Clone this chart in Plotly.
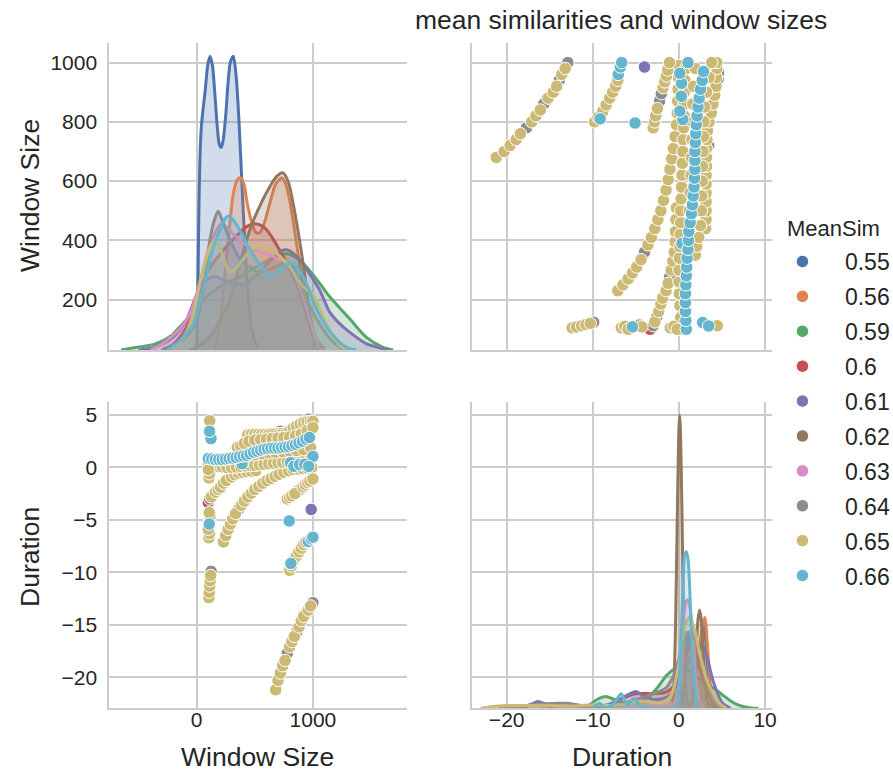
import plotly.graph_objects as go

# ---------------- data ----------------
groups = ["0.55", "0.56", "0.59", "0.6", "0.61", "0.62", "0.63", "0.64", "0.65", "0.66"]
colors = ["#4C72B0", "#DD8452", "#55A868", "#C44E52", "#8172B3",
          "#937860", "#DA8BC3", "#8C8C8C", "#CCB974", "#64B5CD"]

# scatter points per MeanSim group: (Window Size, Duration)
pts = {
    "0.55": [(130, 0.8), (160, 0.75), (280, 0.85), (310, 0.9)],
    "0.56": [(400, 1.1), (370, 1.05), (730, 1.9), (760, 1.95)],
    "0.59": [(945, 4.55), (750, 2.85), (220, 0.05)],
    "0.6": [(870, -15.45), (100, -3.35), (490, 1.45), (520, 1.55)],
    "0.61": [(985, -4.0), (790, 2.0), (820, 2.1)],
    "0.62": [(700, 1.85), (670, 1.85), (250, 0.8)],
    "0.63": [(220, 0.75), (190, 0.75), (640, 1.85)],
    "0.64": [(780, -17.7), (860, -15.7), (940, -13.9), (1000, -12.9), (124, -9.9),
             (360, -4.0), (112, -3.0), (140, -2.6), (275, -1.1), (870, -2.25), (895, -2.05),
             (270, -0.15), (720, 3.45), (965, 4.6)],
    "0.65": [
        # lower diagonal
        (680, -21.2), (700, -20.3), (720, -19.6), (740, -18.9), (760, -18.4), (800, -17.1),
        (820, -16.6), (840, -16.1), (880, -15.2), (900, -14.6), (920, -14.2), (960, -13.6), (980, -13.2),
        # short window cluster
        (105, -12.4), (108, -11.9), (112, -11.3), (116, -10.8), (120, -10.3),
        # upper-right diagonal
        (800, -9.8), (815, -9.4), (835, -8.85), (857, -8.45), (880, -8.05), (900, -7.7), (920, -7.35), (940, -7.1),
        # long curve
        (230, -7.1), (250, -6.5), (270, -5.9), (290, -5.4), (310, -4.9), (335, -4.4), (385, -3.6),
        (410, -3.2), (440, -2.8), (470, -2.45), (500, -2.1), (535, -1.8), (570, -1.5), (605, -1.25),
        (640, -1.05), (675, -0.85), (710, -0.65), (750, -0.45), (790, -0.3), (830, -0.2), (870, -0.15),
        (910, -0.1), (950, -0.05), (990, 0.0),
        # short curve
        (125, -2.8), (160, -2.35), (185, -2.1), (205, -1.9), (230, -1.5), (255, -1.25), (300, -0.9),
        (330, -0.7), (360, -0.55), (395, -0.45), (430, -0.4), (470, -0.35), (510, -0.3),
        # curve near -2
        (780, -3.0), (800, -2.85), (820, -2.7), (845, -2.5), (915, -1.85), (935, -1.65), (955, -1.45),
        (975, -1.3), (1000, -1.1),
        # upper rows
        (440, 3.1), (470, 3.15), (500, 3.15), (530, 3.15), (560, 3.15), (590, 3.15), (620, 3.15),
        (650, 3.2), (680, 3.2), (710, 3.2), (740, 3.25), (770, 3.3), (800, 3.5), (830, 3.75),
        (860, 3.95), (890, 4.15), (920, 4.3), (950, 4.35), (980, 4.4), (1000, 4.4),
        (350, 1.9), (380, 2.05), (410, 2.3), (450, 2.5), (500, 2.6), (550, 2.65), (600, 2.7),
        (650, 2.75), (700, 2.8), (750, 2.85), (800, 2.9), (850, 3.0), (900, 3.2), (950, 3.5), (1000, 3.8),
        # middle row
        (100, 0.3), (140, 0.2), (180, 0.1), (220, 0.05), (260, 0.0), (300, 0.0), (340, 0.05),
        (380, 0.1), (420, 0.15), (460, 0.2), (500, 0.2), (540, 0.25), (580, 0.3), (620, 0.35),
        (660, 0.4), (700, 0.45), (740, 0.5), (780, 0.55), (820, 0.6), (860, 0.6), (900, 0.6),
        (940, 0.7), (980, 0.8),
        (500, 1.2), (560, 1.3), (620, 1.4), (680, 1.45), (740, 1.5), (800, 1.55), (860, 1.6),
        (920, 1.7), (980, 1.9),
        # smallest window column
        (105, -6.7), (110, -6.3), (100, -5.9), (112, -5.0), (115, -4.6), (108, -4.3),
        (105, -1.0), (110, -0.6), (100, -0.2), (112, 4.45),
    ],
    "0.66": [
        (810, -9.15), (960, -7.05), (985, -6.8), (1000, -6.65), (796, -5.1),
        (108, -5.4), (123, 2.75), (111, 3.45), (390, 0.35),
        (100, 0.85), (130, 0.8), (160, 0.75), (190, 0.75), (220, 0.75), (250, 0.8), (280, 0.85),
        (310, 0.9), (340, 0.95), (370, 1.05), (400, 1.1), (430, 1.15), (460, 1.3), (490, 1.45),
        (520, 1.55), (550, 1.65), (580, 1.75), (610, 1.8), (640, 1.85), (670, 1.85), (700, 1.85),
        (730, 1.9), (760, 1.95), (790, 2.0), (820, 2.1), (850, 2.2), (880, 2.35), (910, 2.5),
        (940, 2.7), (970, 2.85), (1000, 1.05),
        (808, 0.45), (836, 0.1), (886, 0.27), (930, 0.3), (964, 0.1),
    ],
}

# diagonal density curves (relative density)
kde_w = {
    "0.55": ([-10, 0, 5, 10, 15, 20, 25, 30, 40, 55, 75, 95, 115, 135, 155, 175, 195, 212, 230, 250,
              270, 290, 315, 340, 365, 390, 415, 440, 470, 500, 530],
             [0, 0.02, 0.08, 0.2, 0.36, 0.5, 0.6, 0.68, 0.76, 0.82, 0.89, 0.97, 1.0, 0.97, 0.88, 0.77,
              0.7, 0.69, 0.72, 0.8, 0.91, 0.98, 1.0, 0.93, 0.77, 0.56, 0.36, 0.2, 0.08, 0.03, 0.01]),
    "0.56": ([160, 200, 230, 257, 285, 314, 350, 380, 410, 430, 470, 510, 545, 580, 630, 680, 735,
              770, 800, 830, 860, 890, 920, 950, 1000, 1050, 1100],
             [0, 0.09, 0.2, 0.32, 0.43, 0.53, 0.58, 0.586, 0.56, 0.51, 0.44, 0.40, 0.40, 0.43, 0.50,
              0.565, 0.586, 0.56, 0.51, 0.44, 0.36, 0.28, 0.2, 0.14, 0.07, 0.025, 0.005]),
    "0.59": ([-650, -500, -360, -215, -143, -72, 28, 200, 371, 543, 714, 800, 914, 1057, 1143, 1315,
              1458, 1600, 1690],
             [0, 0.01, 0.02, 0.05, 0.08, 0.11, 0.16, 0.216, 0.25, 0.29, 0.324, 0.326, 0.296, 0.228,
              0.182, 0.107, 0.044, 0.01, 0]),
    "0.6": ([-300, -200, -100, -57, 28, 114, 229, 300, 371, 430, 487, 550, 600, 714, 829, 886, 943,
             1000, 1060, 1100],
            [0, 0.02, 0.07, 0.11, 0.205, 0.28, 0.34, 0.37, 0.40, 0.42, 0.43, 0.425, 0.41, 0.34, 0.25,
             0.20, 0.12, 0.05, 0.01, 0]),
    "0.61": ([-500, -360, -215, -100, -14, 28, 90, 150, 220, 300, 370, 420, 515, 600, 686, 750, 800,
              886, 970, 1057, 1143, 1230, 1315, 1458, 1600, 1650],
             [0, 0.01, 0.04, 0.093, 0.175, 0.21, 0.24, 0.25, 0.24, 0.227, 0.222, 0.225, 0.256, 0.29,
              0.324, 0.341, 0.338, 0.307, 0.26, 0.205, 0.13, 0.09, 0.061, 0.022, 0.005, 0]),
    "0.62": ([-60, 0, 60, 114, 200, 286, 350, 429, 487, 543, 600, 686, 743, 790, 829, 870, 915, 972,
              1000, 1029, 1060],
             [0, 0.01, 0.025, 0.045, 0.1, 0.17, 0.26, 0.375, 0.44, 0.49, 0.535, 0.59, 0.603, 0.57,
              0.50, 0.41, 0.296, 0.125, 0.06, 0.015, 0]),
    "0.63": ([-400, -315, -143, -57, 28, 114, 215, 300, 401, 500, 600, 700, 772, 850, 915, 1000,
              1058, 1100],
             [0, 0.016, 0.073, 0.125, 0.23, 0.36, 0.43, 0.40, 0.364, 0.34, 0.33, 0.31, 0.296, 0.25,
              0.182, 0.068, 0.006, 0]),
    "0.64": ([-300, -200, -100, 0, 57, 114, 150, 185, 230, 286, 340, 400, 458, 515, 600, 714, 772,
              830, 915, 1000, 1057, 1143, 1230, 1300],
             [0, 0.015, 0.04, 0.1, 0.205, 0.375, 0.44, 0.472, 0.43, 0.375, 0.33, 0.296, 0.284, 0.267,
              0.27, 0.29, 0.30, 0.28, 0.205, 0.13, 0.09, 0.04, 0.01, 0]),
    "0.65": ([-250, -160, -72, -14, 28, 80, 114, 157, 200, 250, 286, 330, 400, 460, 515, 572, 630,
              686, 800, 914, 1000, 1058, 1143, 1229, 1290],
             [0, 0.02, 0.073, 0.15, 0.23, 0.31, 0.35, 0.375, 0.35, 0.29, 0.267, 0.275, 0.31, 0.34,
              0.352, 0.352, 0.345, 0.33, 0.284, 0.216, 0.19, 0.14, 0.07, 0.016, 0]),
    "0.66": ([-250, -150, -29, 28, 86, 143, 200, 250, 280, 320, 400, 460, 515, 560, 600, 630, 680,
              730, 772, 803, 857, 943, 1000, 1058, 1172, 1286, 1372],
             [0, 0.03, 0.09, 0.17, 0.26, 0.35, 0.41, 0.45, 0.456, 0.44, 0.387, 0.34, 0.307, 0.28,
              0.262, 0.25, 0.26, 0.28, 0.29, 0.296, 0.284, 0.228, 0.17, 0.118, 0.05, 0.01, 0]),
}

kde_d = {
    "0.55": ([0.3, 0.7, 1.1, 1.4, 1.8, 2.2, 2.6, 2.9, 3.2, 3.6, 4.0],
             [0, 0.1, 0.26, 0.2, 0.12, 0.15, 0.24, 0.28, 0.2, 0.05, 0]),
    "0.56": ([-0.5, 0, 0.5, 1.0, 1.5, 2.0, 2.4, 2.7, 3.0, 3.3, 3.6, 3.9, 4.3],
             [0, 0.02, 0.08, 0.15, 0.2, 0.2, 0.22, 0.28, 0.31, 0.22, 0.09, 0.025, 0]),
    "0.59": ([-12, -10.5, -9.5, -8.5, -7.5, -6.5, -5, -3.5, -2.5, -1.5, -0.5, 0.3, 1.2, 2.2, 3.2,
              4.2, 5.1, 6, 7, 8, 9.2],
             [0, 0.01, 0.03, 0.04, 0.03, 0.02, 0.02, 0.04, 0.07, 0.11, 0.135, 0.142, 0.13, 0.105,
              0.085, 0.065, 0.045, 0.025, 0.01, 0.003, 0]),
    "0.6": ([-18, -16.5, -15, -13, -11, -8, -6.5, -5, -3, -1.5, -0.5, 0.5, 1.2, 1.6, 2.2, 3.0, 3.8,
             4.5, 5.2],
            [0, 0.02, 0.006, 0.002, 0.002, 0.01, 0.035, 0.05, 0.05, 0.055, 0.08, 0.15, 0.21, 0.215,
             0.16, 0.08, 0.03, 0.005, 0]),
    "0.61": ([-19, -17, -16.4, -15, -13, -10, -8, -6, -5, -4, -2.5, -1, 0, 1, 2, 2.6, 3.2, 4, 5, 6],
             [0, 0.015, 0.023, 0.01, 0.005, 0.005, 0.015, 0.045, 0.057, 0.04, 0.03, 0.045, 0.1,
              0.15, 0.2, 0.22, 0.18, 0.09, 0.02, 0]),
    "0.62": ([-1.2, -0.8, -0.6, -0.4, -0.2, -0.1, 0.0, 0.08, 0.16, 0.3, 0.4, 0.5, 0.7, 0.9, 1.1,
              1.4, 1.7, 2.0, 2.2, 2.4, 2.6, 2.8, 3.0, 3.3, 3.6],
             [0, 0.013, 0.077, 0.28, 0.65, 0.82, 0.96, 1.0, 0.96, 0.76, 0.57, 0.37, 0.12, 0.03,
              0.01, 0.01, 0.06, 0.2, 0.3, 0.335, 0.3, 0.2, 0.1, 0.025, 0]),
    "0.63": ([-16, -15, -13, -7, -6, -5, -4.5, -3.8, -2.5, -1, -0.3, 0.28, 0.58, 0.8, 1.05, 1.3,
              1.63, 2.0, 2.4, 2.8],
             [0, 0.01, 0, 0, 0.01, 0.02, 0.025, 0.01, 0.005, 0.01, 0.03, 0.12, 0.32, 0.36, 0.37,
              0.34, 0.256, 0.085, 0.02, 0]),
    "0.64": ([-21, -19, -16, -13, -11, -9, -7, -5, -3, -1.5, -0.5, 0.3, 1.0, 1.6, 2.3, 3, 3.8,
              4.5, 5.2],
             [0, 0.005, 0.015, 0.017, 0.008, 0.005, 0.01, 0.03, 0.05, 0.07, 0.12, 0.2, 0.26, 0.25,
              0.2, 0.12, 0.04, 0.01, 0]),
    "0.65": ([-23, -21, -18, -15, -12, -10, -8, -6, -4.5, -3, -2, -1, 0, 0.6, 1.2, 1.8, 2.4, 3.2,
              4, 4.8, 5.5],
             [0, 0.008, 0.01, 0.01, 0.008, 0.012, 0.01, 0.015, 0.025, 0.02, 0.02, 0.04, 0.15, 0.27,
              0.31, 0.27, 0.19, 0.1, 0.05, 0.015, 0]),
    "0.66": ([-10, -9.2, -8.6, -7.6, -6.7, -6.0, -5.2, -4.5, -3.5, -1.5, -0.4, -0.1, 0.1, 0.28,
              0.47, 0.66, 0.86, 1.05, 1.24, 1.44, 1.7, 2.0, 2.3],
             [0, 0.017, 0.002, 0.015, 0.05, 0.012, 0.034, 0.008, 0, 0, 0, 0.03, 0.12, 0.256, 0.415,
              0.52, 0.534, 0.51, 0.415, 0.256, 0.12, 0.03, 0]),
}

ws_ticks = [200, 400, 600, 800, 1000]
dur_ticks = [-20, -15, -10, -5, 0, 5]
ws_xticks = [0, 1000]
dur_xticks = [-20, -10, 0, 10]

# ---------------- figure ----------------
FONT = "Liberation Sans, Arial, sans-serif"
TXT = "#262626"
GRID = "#cccccc"


def rgba(hexc, a):
    h = hexc.lstrip("#")
    return "rgba(%d,%d,%d,%s)" % (int(h[0:2], 16), int(h[2:4], 16), int(h[4:6], 16), a)


fig = go.Figure()

# empty base traces so the gridded base subplots of the diagonal panels exist
fig.add_trace(go.Scatter(x=[None], y=[None], xaxis="x3", yaxis="y4", mode="markers",
                         showlegend=False, hoverinfo="skip"))
fig.add_trace(go.Scatter(x=[None], y=[None], xaxis="x2", yaxis="y2", mode="markers",
                         showlegend=False, hoverinfo="skip"))

# KDE top-left (Window Size)
for g, c in zip(groups, colors):
    xs, ys = kde_w[g]
    fig.add_trace(go.Scatter(x=xs, y=ys, xaxis="x3", yaxis="y5", mode="lines",
                             line=dict(color=c, width=3, shape="spline", smoothing=0.8),
                             fill="tozeroy", fillcolor=rgba(c, 0.25),
                             showlegend=False, hoverinfo="skip"))
# KDE bottom-right (Duration)
for g, c in zip(groups, colors):
    xs, ys = kde_d[g]
    fig.add_trace(go.Scatter(x=xs, y=ys, xaxis="x2", yaxis="y3", mode="lines",
                             line=dict(color=c, width=3, shape="spline", smoothing=0.8),
                             fill="tozeroy", fillcolor=rgba(c, 0.25),
                             showlegend=False, hoverinfo="skip"))
# scatters
for g, c in zip(groups, colors):
    w = [p[0] for p in pts[g]]
    d = [p[1] for p in pts[g]]
    mk = dict(color=c, size=12.5, line=dict(color="white", width=1))
    fig.add_trace(go.Scatter(x=w, y=d, xaxis="x", yaxis="y", mode="markers", marker=mk,
                             name=g, legendgroup=g, showlegend=True))
    fig.add_trace(go.Scatter(x=d, y=w, xaxis="x4", yaxis="y6", mode="markers", marker=mk,
                             name=g, legendgroup=g, showlegend=False))

dom_left = [0.1224, 0.4558]
dom_right = [0.5289, 0.8642]
dom_top = [0.5460, 0.9442]
dom_bot = [0.0813, 0.4786]
ws_range = [-752, 1810]
dur_xrange = [-23.99, 10.77]
ws_yrange = [30, 1066]
dur_yrange = [-22.96, 6.24]

common = dict(showgrid=True, gridcolor=GRID, gridwidth=1.6, zeroline=False,
              showline=True, linecolor=GRID, linewidth=1.9,
              tickfont=dict(family=FONT, size=21, color=TXT), tickmode="array")
xlab = dict(ticks="", ticklabelstandoff=-8)
ylab = dict(ticks="outside", ticklen=6, tickcolor="rgba(0,0,0,0)")
hidden = dict(showgrid=False, zeroline=False, showline=False, showticklabels=False, ticks="")

fig.update_layout(
    xaxis=dict(domain=dom_left, anchor="y", range=ws_range, tickvals=ws_xticks, **xlab, **common),
    yaxis=dict(domain=dom_bot, anchor="x", range=dur_yrange, tickvals=dur_ticks, **ylab, **common),
    xaxis2=dict(domain=dom_right, anchor="y2", range=dur_xrange, tickvals=dur_xticks, **xlab, **common),
    yaxis2=dict(domain=dom_bot, anchor="x2", range=dur_yrange, tickvals=dur_ticks,
                showticklabels=False, **common),
    yaxis3=dict(domain=dom_bot, overlaying="y2", anchor="x2", range=[0, 1.045], **hidden),
    xaxis3=dict(domain=dom_left, anchor="y4", range=ws_range, tickvals=ws_xticks,
                showticklabels=False, **common),
    yaxis4=dict(domain=dom_top, anchor="x3", range=ws_yrange, tickvals=ws_ticks, **ylab, **common),
    yaxis5=dict(domain=dom_top, overlaying="y4", anchor="x3", range=[0, 1.045], **hidden),
    xaxis4=dict(domain=dom_right, anchor="y6", range=dur_xrange, tickvals=dur_xticks,
                showticklabels=False, **common),
    yaxis6=dict(domain=dom_top, anchor="x4", range=ws_yrange, tickvals=ws_ticks,
                showticklabels=False, **common),
)

fig.update_layout(
    width=893, height=771, margin=dict(l=0, r=0, t=0, b=0, autoexpand=False),
    paper_bgcolor="white", plot_bgcolor="white",
    font=dict(family=FONT, color=TXT),
    title=dict(text="mean similarities and window sizes", x=0.6955, y=0.974,
               xanchor="center", yanchor="middle", font=dict(family=FONT, size=26.5, color=TXT)),
    legend=dict(x=0.8510, y=0.6887, xanchor="left", yanchor="top",
                font=dict(family=FONT, size=23, color=TXT), tracegroupgap=2,
                itemwidth=75, bgcolor="rgba(0,0,0,0)", traceorder="grouped"),
    showlegend=True,
)

ann = [
    dict(text="Window Size", x=0.0336, y=0.7458, textangle=-90, size=26.5, xa="center"),
    dict(text="Duration", x=0.0336, y=0.2776, textangle=-90, size=26.5, xa="center"),
    dict(text="Window Size", x=0.2889, y=0.0182, textangle=0, size=26.5, xa="center"),
    dict(text="Duration", x=0.6965, y=0.0182, textangle=0, size=26.5, xa="center"),
    dict(text="MeanSim", x=0.8785, y=0.703, textangle=0, size=22, xa="left"),
]
for a in ann:
    fig.add_annotation(text=a["text"], x=a["x"], y=a["y"], xref="paper", yref="paper",
                       textangle=a["textangle"], showarrow=False, xanchor=a["xa"], yanchor="middle",
                       font=dict(family=FONT, size=a["size"], color=TXT))

fig.write_html("out.html", config={"displayModeBar": False})
